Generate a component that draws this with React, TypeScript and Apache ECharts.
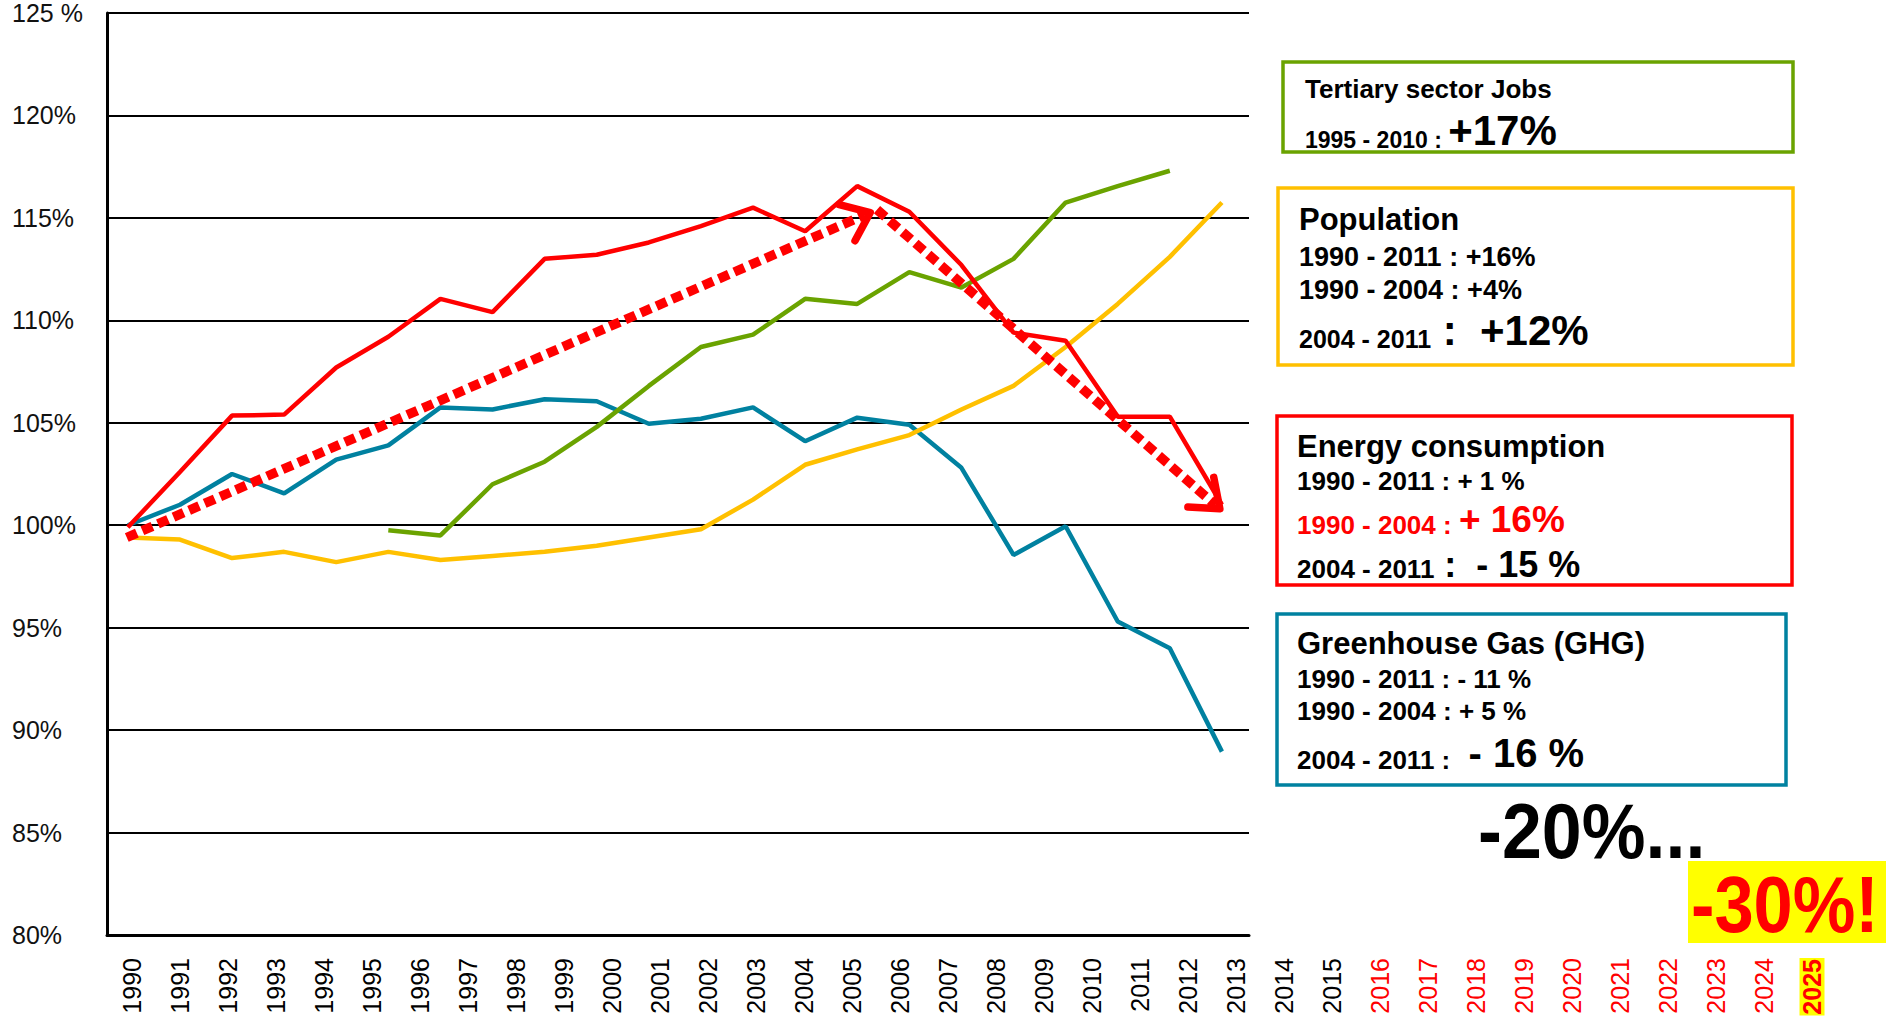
import React, { useEffect, useRef } from "react";
import * as echarts from "echarts";

const FONT = "'Liberation Sans', Arial, Helvetica, sans-serif";

// ---------- data ----------
const dataYears = [1990, 1991, 1992, 1993, 1994, 1995, 1996, 1997, 1998, 1999, 2000, 2001, 2002, 2003, 2004, 2005, 2006, 2007, 2008, 2009, 2010, 2011];
const energyConsumption = [99.9, 102.6, 105.35, 105.4, 107.7, 109.2, 111.05, 110.4, 113.0, 113.2, 113.8, 114.6, 115.5, 114.35, 116.55, 115.3, 112.7, 109.4, 109.0, 105.3, 105.3, 101.0];
const greenhouseGas = [100, 101.0, 102.5, 101.55, 103.2, 103.9, 105.75, 105.65, 106.15, 106.05, 104.95, 105.2, 105.75, 104.1, 105.25, 104.9, 102.8, 98.55, 99.95, 95.3, 94.0, 88.95];
const population = [99.4, 99.3, 98.4, 98.7, 98.2, 98.7, 98.3, 98.5, 98.7, 99.0, 99.4, 99.8, 101.25, 102.95, 103.7, 104.4, 105.65, 106.8, 108.7, 110.8, 113.1, 115.75];
const tertiaryJobs = [null, null, null, null, null, 99.75, 99.5, 102.0, 103.1, 104.8, 106.8, 108.7, 109.3, 111.05, 110.8, 112.35, 111.6, 113.0, 115.75, 116.55, 117.3, null];

const axisYears = ["1990", "1991", "1992", "1993", "1994", "1995", "1996", "1997", "1998", "1999", "2000", "2001", "2002", "2003", "2004", "2005", "2006", "2007", "2008", "2009", "2010", "2011", "2012", "2013", "2014", "2015", "2016", "2017", "2018", "2019", "2020", "2021", "2022", "2023", "2024", "2025"];
const redYearFrom = 2016;
const highlightYear = "2025";

// trend arrows: [startYear, startValue, endYear, endValue]
const trendArrows = [
  [1989.98, 99.4, 2004.25, 115.26],
  [2004.38, 115.4, 2010.96, 100.8],
];

const RED = "#FF0000";
const BLUE = "#0081A0";
const YELLOW = "#FFC000";
const GREEN = "#6AA300";

type Seg = [string, number, string?];
type Line = { base: number; segs: Seg[] };
type Box = { color: string; rect: [number, number, number, number]; x: number; lines: Line[] };

const boxes: Box[] = [
  {
    color: GREEN, rect: [1283, 62, 510, 90], x: 1305,
    lines: [
      { base: 98, segs: [["Tertiary sector Jobs", 26]] },
      { base: 145, segs: [["1995 - 2010 : ", 23], ["+17%", 42]] },
    ],
  },
  {
    color: YELLOW, rect: [1278, 188, 515, 177], x: 1299,
    lines: [
      { base: 230, segs: [["Population", 31]] },
      { base: 266, segs: [["1990 - 2011 : +16%", 27]] },
      { base: 299, segs: [["1990 - 2004 : +4%", 27]] },
      { base: 345, segs: [["2004 - 2011", 25], [" :  +12%", 42]] },
    ],
  },
  {
    color: RED, rect: [1277, 416, 515, 169], x: 1297,
    lines: [
      { base: 457, segs: [["Energy consumption", 31]] },
      { base: 490, segs: [["1990 - 2011 : + 1 %", 26]] },
      { base: 532, segs: [["1990 - 2004 : ", 26, RED], ["+ 16%", 37, RED]] },
      { base: 577, segs: [["2004 - 2011", 26], [" :  - 15 %", 36]] },
    ],
  },
  {
    color: BLUE, rect: [1277, 614, 509, 171], x: 1297,
    lines: [
      { base: 654, segs: [["Greenhouse Gas (GHG)", 31]] },
      { base: 688, segs: [["1990 - 2011 : - 11 %", 26]] },
      { base: 720, segs: [["1990 - 2004 : + 5 %", 26]] },
      { base: 767, segs: [["2004 - 2011 : ", 26], [" - 16 %", 40]] },
    ],
  },
];

function toPairs(vals: (number | null)[]) {
  const out: [number, number][] = [];
  vals.forEach((v, i) => {
    if (v !== null) out.push([dataYears[i], v]);
  });
  return out;
}

function buildGraphic() {
  const els: any[] = [];
  boxes.forEach((b) => {
    els.push({
      type: "rect",
      shape: { x: b.rect[0], y: b.rect[1], width: b.rect[2], height: b.rect[3] },
      style: { fill: "none", stroke: b.color, lineWidth: 3.5 },
    });
    b.lines.forEach((ln) => {
      const rich: any = {};
      let text = "";
      let maxFs = 0;
      ln.segs.forEach((s, i) => {
        const name = "s" + i;
        rich[name] = {
          fontSize: s[1],
          fontWeight: "bold",
          fontFamily: FONT,
          fill: s[2] || "#000",
          verticalAlign: "bottom",
        };
        text += "{" + name + "|" + s[0] + "}";
        maxFs = Math.max(maxFs, s[1]);
      });
      els.push({
        type: "text",
        x: b.x,
        y: ln.base + 0.15 * maxFs,
        style: { text, rich, align: "left", verticalAlign: "bottom" },
      });
    });
  });
  els.push({
    type: "text",
    x: 1478,
    y: 858 + 0.15 * 78,
    scaleX: 0.92,
    style: { text: "-20%...", fontSize: 78, fontWeight: "bold", fontFamily: FONT, fill: "#000", verticalAlign: "bottom" },
  });
  els.push({
    type: "rect",
    shape: { x: 1688, y: 861, width: 198, height: 82 },
    style: { fill: "#FFFF00" },
  });
  els.push({
    type: "text",
    x: 1691,
    y: 932 + 0.15 * 80,
    scaleX: 0.88,
    style: { text: "-30%!", fontSize: 80, fontWeight: "bold", fontFamily: FONT, fill: RED, verticalAlign: "bottom" },
  });
  return els;
}

function arrowRender(params: any, api: any) {
  const p1 = api.coord([api.value(0), api.value(1)]);
  const p2 = api.coord([api.value(2), api.value(3)]);
  const dx = p2[0] - p1[0];
  const dy = p2[1] - p1[1];
  const len = Math.hypot(dx, dy);
  const ux = dx / len;
  const uy = dy / len;
  const head = 32;
  const ang = (38 * Math.PI) / 180;
  const rot = (x: number, y: number, a: number) => [x * Math.cos(a) - y * Math.sin(a), x * Math.sin(a) + y * Math.cos(a)];
  const b1 = rot(-ux, -uy, ang);
  const b2 = rot(-ux, -uy, -ang);
  return {
    type: "group",
    children: [
      {
        type: "line",
        shape: { x1: p1[0], y1: p1[1], x2: p2[0] - ux * 6, y2: p2[1] - uy * 6 },
        style: { stroke: RED, lineWidth: 9.5, lineDash: [11, 6], lineCap: "butt" },
      },
      {
        type: "polyline",
        shape: {
          points: [
            [p2[0] + b1[0] * head, p2[1] + b1[1] * head],
            [p2[0], p2[1]],
            [p2[0] + b2[0] * head, p2[1] + b2[1] * head],
          ],
        },
        style: { stroke: RED, fill: null, lineWidth: 7.5, lineCap: "round", lineJoin: "round" },
      },
    ],
  };
}

export default function App() {
  const ref = useRef<HTMLDivElement>(null);
  useEffect(() => {
    if (!ref.current) return;
    const chart = echarts.init(ref.current, null, { renderer: "svg" });
    const lineSeries = (name: string, vals: (number | null)[], color: string) => ({
      name,
      type: "line",
      xAxisIndex: 0,
      yAxisIndex: 0,
      data: toPairs(vals),
      symbol: "none",
      lineStyle: { color, width: 4.5 },
      itemStyle: { color },
      z: 3,
    });
    chart.setOption({
      animation: false,
      backgroundColor: "#fff",
      textStyle: { fontFamily: FONT },
      grid: [
        { left: 107, top: 13, width: 1142, height: 922 },
        { left: 108, top: 13, width: 1728, height: 922 },
      ],
      xAxis: [
        {
          type: "value",
          gridIndex: 0,
          min: 1989.6,
          max: 2011.52,
          axisLine: { show: true, onZero: false, lineStyle: { color: "#000", width: 3 } },
          axisTick: { show: false },
          axisLabel: { show: false },
          splitLine: { show: false },
        },
        {
          type: "category",
          gridIndex: 1,
          data: axisYears,
          boundaryGap: true,
          axisLine: { show: false },
          axisTick: { show: false },
          splitLine: { show: false },
          axisLabel: {
            interval: 0,
            rotate: 90,
            margin: 23,
            fontSize: 25,
            fontFamily: FONT,
            color: (v: string) => (Number(v) >= redYearFrom ? RED : "#000"),
            formatter: (v: string) => (v === highlightYear ? "{hl|" + v + "}" : v),
            rich: {
              hl: { color: RED, fontWeight: "bold", fontSize: 25, fontFamily: FONT, backgroundColor: "#FFFF00", padding: [0, 1, 0, 1] },
            },
          },
        },
      ],
      yAxis: [
        {
          type: "value",
          gridIndex: 0,
          min: 80,
          max: 125,
          interval: 5,
          axisLine: { show: true, lineStyle: { color: "#000", width: 3 } },
          axisTick: { show: false },
          axisLabel: {
            align: "left",
            margin: 95,
            fontSize: 25,
            fontFamily: FONT,
            color: "#111",
            formatter: (v: number) => (v === 125 ? "125 %" : v + "%"),
          },
          splitLine: { show: true, lineStyle: { color: "#000", width: 2 } },
        },
        { type: "value", gridIndex: 1, show: false, min: 0, max: 1 },
      ],
      series: [
        lineSeries("Greenhouse Gas (GHG)", greenhouseGas, BLUE),
        lineSeries("Population", population, YELLOW),
        lineSeries("Tertiary sector Jobs", tertiaryJobs, GREEN),
        lineSeries("Energy consumption", energyConsumption, RED),
        {
          type: "custom",
          xAxisIndex: 0,
          yAxisIndex: 0,
          data: trendArrows,
          encode: { x: [0, 2], y: [1, 3] },
          renderItem: arrowRender,
          z: 5,
        },
      ],
      graphic: buildGraphic(),
    });
    return () => chart.dispose();
  }, []);
  return <div ref={ref} style={{ position: "absolute", left: 0, top: 0, width: 1894, height: 1021 }} />;
}
